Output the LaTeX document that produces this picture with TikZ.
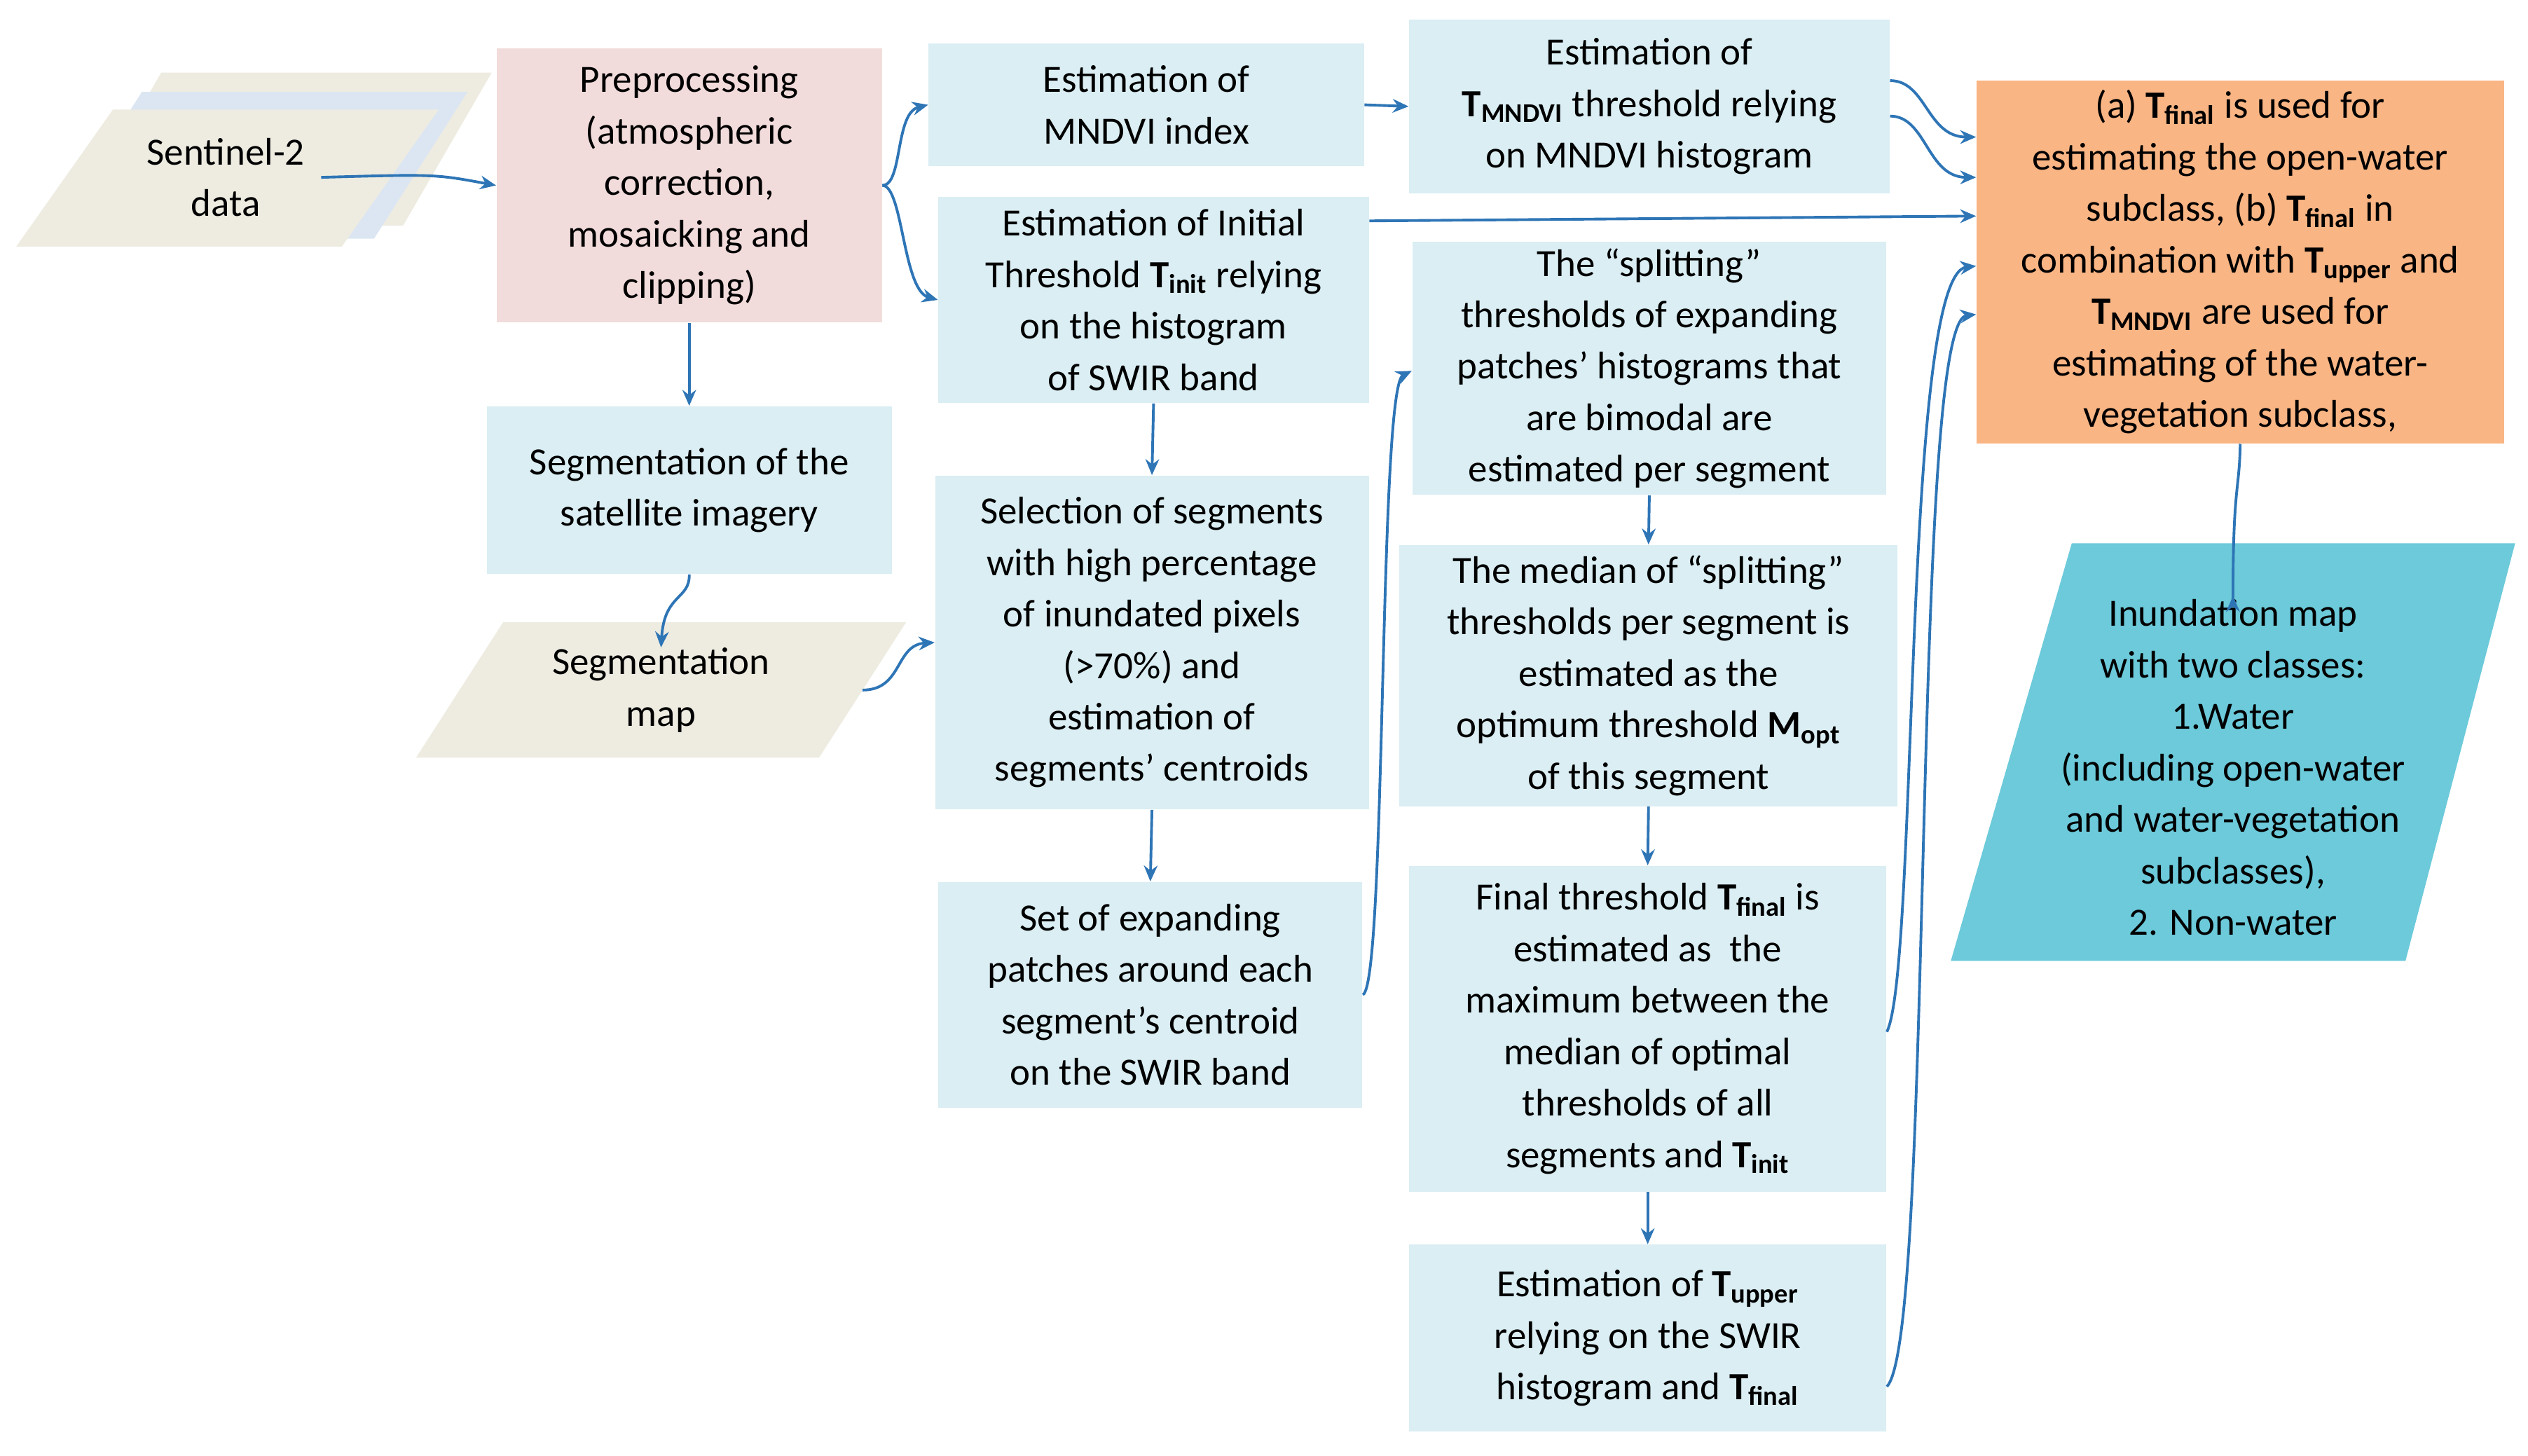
\documentclass[tikz,border=0pt]{standalone}
\usepackage{fontspec}
\setmainfont{Carlito}
\usetikzlibrary{arrows.meta}
\definecolor{lb}{HTML}{DAEEF3}
\definecolor{pk}{HTML}{F2DCDB}
\definecolor{og}{HTML}{F9B584}
\definecolor{cy}{HTML}{6CCADA}
\definecolor{bg}{HTML}{EEECE1}
\definecolor{bl2}{HTML}{DCE6F2}
\definecolor{ar}{HTML}{2E75B6}
\newcommand{\Tb}[1]{\textbf{T\textsubscript{#1}}}
\begin{document}
\begin{tikzpicture}[x=0.025cm,y=-0.025cm,
 box/.style={fill=lb,draw=none,align=center,inner sep=0pt,font=\fontsize{17}{22.7}\selectfont},
 txt/.style={align=center,inner sep=0pt,font=\fontsize{17}{22.7}\selectfont},
 arr/.style={draw=ar,line width=1.2pt,-{Stealth[length=7pt,width=6pt]}}]
\useasboundingbox (0,0) rectangle (1568,903);
% parallelograms
\fill[bg] (45,140)--(100,45)--(305,45)--(250,140)--cycle;
\fill[bl2] (30,148)--(88,57)--(290,57)--(232,148)--cycle;
\fill[bg] (10,153)--(70,68)--(272,68)--(212,153)--cycle;
\node[txt] (sen) at (140,110) {Sentinel-2\\data};
\fill[bg] (258,470)--(312,386)--(562,386)--(508,470)--cycle;
\node[txt] (smap) at (410,428) {Segmentation\\map};
\fill[cy] (1210,596)--(1285,337)--(1560,337)--(1492,596)--cycle;
\node[txt] (inu) at (1385,476) {Inundation map\\with two classes:\\1.Water\\(including open-water\\and water-vegetation\\subclasses),\\2. Non-water};
% boxes
\node[box,fill=pk,minimum width=59.75mm,minimum height=42.5mm] (pre) at (427.5,115) {Preprocessing\\(atmospheric\\correction,\\mosaicking and\\clipping)};
\node[box,minimum width=67.5mm,minimum height=19mm] (mn) at (711,65) {Estimation of\\MNDVI index};
\node[box,minimum width=74.5mm,minimum height=27mm] (tm) at (1023,66) {Estimation of\\\Tb{MNDVI} threshold relying\\on MNDVI histogram};
\node[box,fill=og,minimum width=81.75mm,minimum height=56.25mm] (or) at (1389.5,162.5) {(a) \Tb{final} is used for\\estimating the open-water\\subclass, (b) \Tb{final} in\\combination with \Tb{upper} and\\\Tb{MNDVI} are used for\\estimating of the water-\\vegetation subclass,};
\node[box,minimum width=66.75mm,minimum height=32mm] (ini) at (715.5,186) {Estimation of Initial\\Threshold \Tb{init} relying\\on the histogram\\of SWIR band};
\node[box,minimum width=73.5mm,minimum height=39.25mm] (spl) at (1023,228.5) {The “splitting”\\thresholds of expanding\\patches’ histograms that\\are bimodal are\\estimated per segment};
\node[box,minimum width=62.75mm,minimum height=26mm] (seg) at (427.5,304) {Segmentation of the\\satellite imagery};
\node[box,minimum width=67.25mm,minimum height=51.75mm] (sel) at (714.5,398.5) {Selection of segments\\with high percentage\\of inundated pixels\\(>70\%) and\\estimation of\\segments’ centroids};
\node[box,minimum width=77.25mm,minimum height=40.5mm] (med) at (1022.5,419) {The median of “splitting”\\thresholds per segment is\\estimated as the\\optimum threshold \textbf{M\textsubscript{opt}}\\of this segment};
\node[box,minimum width=65.75mm,minimum height=35mm] (set) at (713.5,617) {Set of expanding\\patches around each\\segment’s centroid\\on the SWIR band};
\node[box,minimum width=74mm,minimum height=50.5mm] (fin) at (1022,638) {Final threshold \Tb{final} is\\estimated as \ the\\maximum between the\\median of optimal\\thresholds of all\\segments and \Tb{init}};
\node[box,minimum width=74mm,minimum height=29mm] (tup) at (1022,830) {Estimation of \Tb{upper}\\relying on the SWIR\\histogram and \Tb{final}};
% arrows
\draw[arr] (sen.east) ++(10,0) .. controls (270,108) .. (pre.west);
\draw[arr] (pre.east) .. controls (560,115) and (555,70) .. (mn.west);
\draw[arr] (pre.east) .. controls (560,115) and (560,180) .. (ini.west);
\draw[arr] (pre.south) -- (seg.north);
\draw[arr] (seg.south) .. controls (428,372) and (412,368) .. (smap.north);
\draw[arr] (535,428) .. controls (560,428) and (555,400) .. (sel.west);
\draw[arr] (mn.east) -- (tm.west);
\draw[arr] (tm.east |- 0,50) .. controls (1195,50) and (1195,85) .. (or.west |- 0,85);
\draw[arr] (tm.east |- 0,72) .. controls (1195,72) and (1195,110) .. (or.west |- 0,110);
\draw[arr] (ini.east |- 0,137) -- (or.west |- 0,134);
\draw[arr] (ini.south) -- (sel.north);
\draw[arr] (sel.south) -- (set.north);
\draw[arr] (set.east |- 0,617) .. controls (860,610) and (855,240) .. (spl.west |- 0,230);
\draw[arr] (spl.south) -- (med.north);
\draw[arr] (med.south) -- (fin.north);
\draw[arr] (fin.south) -- (tup.north);
\draw[arr] (fin.east |- 0,640) .. controls (1190,600) and (1180,170) .. (or.west |- 0,165);
\draw[arr] (tup.east |- 0,860) .. controls (1200,830) and (1185,200) .. (or.west |- 0,195);
\draw[arr] (or.south) .. controls (1389,305) and (1385,300) .. (inu.north -| 1385,0) ++(0,-2);
\end{tikzpicture}
\end{document}
